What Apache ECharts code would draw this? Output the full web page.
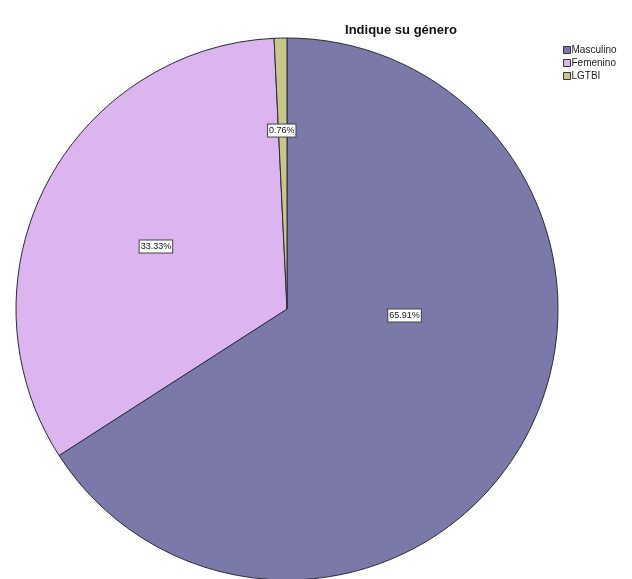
<!DOCTYPE html>
<html><head><meta charset="utf-8">
<script src="https://cdn.jsdelivr.net/npm/echarts@6/dist/echarts.min.js"></script>
<style>html,body{margin:0;padding:0;background:#fff}#c{width:632px;height:579px}</style>
</head><body><div id="c"></div>
<script>
const categories = ["Masculino", "Femenino", "LGTBI"];
const values = [65.91, 33.33, 0.76];
const colors = ["#7b79aa", "#dcb4ef", "#c9c68a"];
const labelOffsets = [[-4, -60], [-8, 1], [-2, -40]];

const chart = echarts.init(document.getElementById('c'), null, {renderer: 'canvas'});
chart.setOption({
  animation: false,
  backgroundColor: '#fff',
  title: {
    text: 'Indique su género', left: 396, top: 19, textAlign: 'center',
    textStyle: {fontFamily: 'Liberation Sans', fontSize: 13, fontWeight: 'bold', color: '#111'}
  },
  legend: {
    orient: 'vertical', left: 558, top: 40, itemWidth: 7, itemHeight: 7, itemGap: 3,
    icon: 'rect', data: categories,
    textStyle: {fontFamily: 'Liberation Sans', fontSize: 10, color: '#222', padding: [0, 0, 0, -4]},
    itemStyle: {borderColor: '#333', borderWidth: 1}
  },
  series: [{
    type: 'pie', center: [287, 309], radius: [0, 271], startAngle: 90, clockwise: true,
    avoidLabelOverlap: false,
    itemStyle: {borderColor: '#2a2a3a', borderWidth: 1},
    label: {
      show: true, position: 'inside', fontFamily: 'Liberation Sans', fontSize: 9, color: '#111',
      backgroundColor: '#fff', borderColor: '#444', borderWidth: 1, padding: [2, 1, 1, 1],
      formatter: p => p.value.toFixed(2) + '%'
    },
    labelLine: {show: false},
    emphasis: {disabled: true},
    data: categories.map((c, i) => ({
      name: c, value: values[i], itemStyle: {color: colors[i]},
      label: {offset: labelOffsets[i]}
    }))
  }]
});
</script></body></html>
